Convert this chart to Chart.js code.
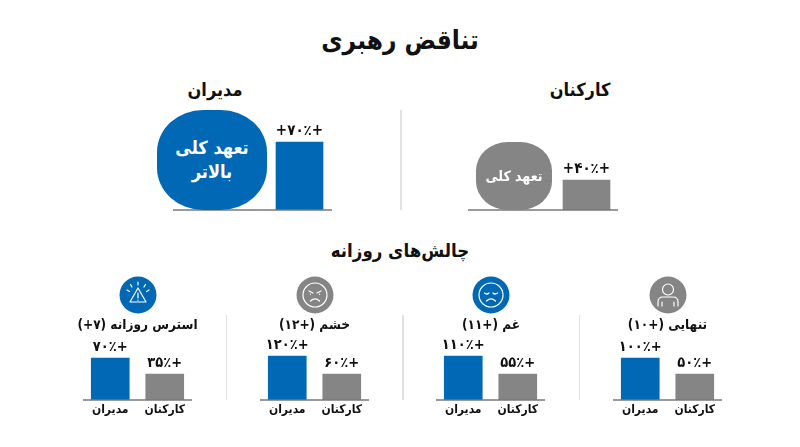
<!DOCTYPE html>
<html lang="fa">
<head>
<meta charset="utf-8">
<script src="https://cdn.jsdelivr.net/npm/chart.js@4"></script>
<style>
  html, body { margin: 0; padding: 0; background: #fff; }
  #page { position: relative; width: 800px; height: 447px; overflow: hidden; font-family: "DejaVu Sans Condensed", "DejaVu Sans", sans-serif; color: #111; }
  #page canvas, .txt, .rule, .blob, .icon { position: absolute; }
  .txt { transform: translate(-50%, -50%); white-space: nowrap; font-weight: bold; direction: rtl; }
  .rule { width: 1.5px; background: #e2e2e2; }
  .blob { display: flex; align-items: center; justify-content: center; text-align: center; color: #fff; font-weight: bold; direction: rtl; }
</style>
</head>
<body>
<div id="page"></div>
<script>
const BLUE = "#0068b5";
const GRAY = "#858585";
const AXIS = "#77797c";
const FONT = '"DejaVu Sans Condensed", "DejaVu Sans", sans-serif';

// top panels
const topLabels = ["کارکنان", "مدیران"];
const topValueLabels = ["+۴۰٪+", "+۷۰٪+"];
const topBlobLabels = ["تعهد کلی", "تعهد کلی<br>بالاتر"];
// bars in the picture are not proportional to their printed percents,
// so heights are read off the image and percents only go in the labels
const topBarHeights = [30, 68];

// lower panels, left to right
const groupLabels = ["مدیران", "کارکنان"];
const panelTitles = ["استرس روزانه (۷+)", "خشم (+۱۲)", "غم (+۱۱)", "تنهایی (+۱۰)"];
const managerLabels = ["+۷۰٪", "+۱۲۰٪", "+۱۱۰٪", "+۱۰۰٪"];
const staffLabels = ["+۳۵٪", "+۶۰٪", "+۵۵٪", "+۵۰٪"];
const managerHeights = [42, 44, 44, 42];
const staffHeights = [26, 26, 26, 26];

const page = document.getElementById("page");

function addText(text, x, y, size) {
    const el = document.createElement("div");
    el.className = "txt";
    el.textContent = text;
    el.style.cssText = `left:${x}px;top:${y}px;font-size:${size}px`;
    page.appendChild(el);
}

function addRule(x, top, bottom) {
    const el = document.createElement("div");
    el.className = "rule";
    el.style.cssText = `left:${x}px;top:${top}px;height:${bottom - top}px`;
    page.appendChild(el);
}

function addBlob(html, x, y, w, h, color, size) {
    const el = document.createElement("div");
    el.className = "blob";
    el.innerHTML = html;
    el.style.cssText = `left:${x}px;top:${y}px;width:${w}px;height:${h}px;background:${color};font-size:${size}px;line-height:1.35;border-radius:42%`;
    page.appendChild(el);
}

function addIcon(cx, cy, color, inner) {
    const el = document.createElement("div");
    el.className = "icon";
    el.style.cssText = `left:${cx - 19}px;top:${cy - 19}px;width:38px;height:38px`;
    el.innerHTML = `<svg width="38" height="38" viewBox="0 0 38 38"><circle cx="19" cy="19" r="18.5" fill="${color}"/>` +
        `<g fill="none" stroke="#fff" stroke-width="1.2" stroke-linecap="round" stroke-linejoin="round">${inner}</g></svg>`;
    page.appendChild(el);
}

// baseline across the whole canvas, and the printed percent above each bar
const barDecor = {
    id: "barDecor",
    afterDatasetsDraw(chart, args, opts) {
        const ctx = chart.ctx;
        const base = chart.scales.y.getPixelForValue(0);
        ctx.save();
        ctx.strokeStyle = AXIS;
        ctx.lineWidth = 1.5;
        ctx.beginPath();
        ctx.moveTo(0, base);
        ctx.lineTo(chart.width, base);
        ctx.stroke();
        ctx.fillStyle = "#111";
        ctx.font = `bold ${opts.size}px ${FONT}`;
        ctx.textAlign = "center";
        ctx.textBaseline = "middle";
        ctx.direction = "rtl";
        chart.getDatasetMeta(0).data.forEach((bar, i) => {
            ctx.fillText(opts.texts[i], bar.x, bar.y - 11);
        });
        ctx.restore();
    }
};

function barChart(opt) {
    const canvas = document.createElement("canvas");
    canvas.width = opt.w;
    canvas.height = opt.h;
    canvas.style.cssText = `left:${opt.x}px;top:${opt.y}px;width:${opt.w}px;height:${opt.h}px`;
    page.appendChild(canvas);
    return new Chart(canvas, {
        type: "bar",
        data: {
            labels: opt.labels,
            datasets: [{
                data: opt.heights,
                backgroundColor: opt.colors,
                barThickness: opt.barWidth
            }]
        },
        options: {
            responsive: false,
            animation: false,
            layout: { padding: { left: opt.padLeft || 0 } },
            plugins: {
                legend: { display: false },
                tooltip: { enabled: false },
                barDecor: { texts: opt.texts, size: opt.labelSize }
            },
            scales: {
                x: {
                    grid: { display: false, tickLength: 0 },
                    border: { display: false },
                    ticks: { display: opt.showTicks, color: "#111", padding: 3, maxRotation: 0, font: { family: FONT, size: 12, weight: "bold" } },
                    afterFit(scale) { scale.height = opt.axisHeight; }
                },
                y: { display: false, min: 0, max: opt.h - opt.axisHeight }
            }
        },
        plugins: [barDecor]
    });
}

addText("تناقض رهبری", 400, 40, 26);
addText(topLabels[0], 580, 89, 18);
addText(topLabels[1], 215, 89, 18);
addText("چالش‌های روزانه", 400, 250, 18.5);

addRule(400, 110, 210);
addRule(225.5, 315, 400);
addRule(402, 315, 400);
addRule(578.5, 315, 400);

// top panels
barChart({ x: 468, y: 100, w: 150, h: 112, padLeft: 87, labels: [topLabels[0]], heights: [topBarHeights[0]], colors: [GRAY], texts: [topValueLabels[0]], barWidth: 47, labelSize: 15, showTicks: false, axisHeight: 2 });
barChart({ x: 173, y: 100, w: 159, h: 112, padLeft: 94, labels: [topLabels[1]], heights: [topBarHeights[1]], colors: [BLUE], texts: [topValueLabels[1]], barWidth: 47, labelSize: 15, showTicks: false, axisHeight: 2 });
addBlob(topBlobLabels[0], 476, 142, 76, 68, GRAY, 14);
addBlob(topBlobLabels[1], 157, 110, 110, 100, BLUE, 18);

// lower panels
const panelLeft = [83, 260, 436, 613];
const titleX = [137.5, 314.5, 491, 667.5];
panelLeft.forEach((x, i) => {
    barChart({
        x: x, y: 330, w: 109, h: 100,
        labels: groupLabels,
        heights: [managerHeights[i], staffHeights[i]],
        colors: [BLUE, GRAY],
        texts: [managerLabels[i], staffLabels[i]],
        barWidth: 38, labelSize: 14.5, showTicks: true, axisHeight: 30
    });
    addText(panelTitles[i], titleX[i], 324, 13.5);
});

// icons
addIcon(137.5, 294.5, BLUE,
    '<path d="M19 12 L27 26 H11 Z"/><path d="M19 17 V22 M19 24 V24.3"/><path d="M19 6 V9 M11.5 8.5 L13 11 M26.5 8.5 L25 11 M8 14 L10.5 15.5 M30 14 L27.5 15.5"/>');
addIcon(314.5, 294.5, GRAY,
    '<circle cx="19" cy="19" r="12"/><path d="M13 15 L17 17 M25 15 L21 17 M14.5 25 Q19 20.5 23.5 25"/><path d="M14.5 18 V18.3 M23.5 18 V18.3"/>');
addIcon(491, 294.5, BLUE,
    '<circle cx="19" cy="19" r="12"/><path d="M12.5 17 Q15 19 17 17 M21 17 Q23 19 25.5 17 M14.5 25 Q19 20.5 23.5 25"/>');
addIcon(667.5, 294.5, GRAY,
    '<circle cx="19" cy="13.5" r="5.5"/><path d="M9 30 V26 Q9 21 14 21 H24 Q29 21 29 26 V30 M13 30 V26 M25 30 V26"/>');
</script>
</body>
</html>
